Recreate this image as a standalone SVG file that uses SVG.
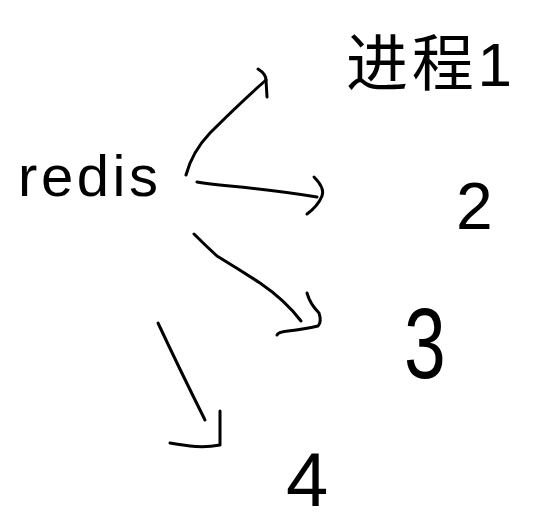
<svg xmlns="http://www.w3.org/2000/svg" width="548" height="525" viewBox="0 0 548 525">
<style>
.ln{fill:none;stroke:#000;stroke-width:3;stroke-linecap:round;stroke-linejoin:round}
.t{font-family:"Liberation Sans","Noto Sans CJK SC",sans-serif;fill:#000;font-weight:normal}
</style>
<rect width="548" height="525" fill="#fff"/>
<g id="redis"><text class="t" x="18" y="196" font-size="58" textLength="140" lengthAdjust="spacing">redis</text></g>
<g id="p1"><text class="t" x="346" y="86" font-size="62" textLength="166" lengthAdjust="spacing">进程1</text></g>
<g id="p2"><text class="t" x="456" y="229" font-size="66">2</text></g>
<g id="p3"><text class="t" x="404" y="378" font-size="100" transform="translate(404 378) scale(0.75 1) translate(-404 -378)">3</text></g>
<g id="p4"><text class="t" x="286" y="506" font-size="76">4</text></g>
<g id="connectors">
<path class="ln" d="M186,175 Q192,152 210,133 Q240,103 266,80"/>
<path class="ln" d="M258,69 Q266,74 266,80 L267,97"/>
<path class="ln" d="M197,182 Q208,184 230,186 Q280,191 317,197"/>
<path class="ln" d="M314,177 Q325,188 322,196 Q318,206 307,214"/>
<path class="ln" d="M194,234 Q205,245 217,256 Q240,270 260,283 Q285,300 301,321"/>
<path class="ln" d="M307,293 Q310,304 319,313 Q322,322 318,326 Q305,329 288,331 Q278,332 277,335"/>
<path class="ln" d="M158,323 Q180,370 205,420"/>
<path class="ln" d="M220,411 L220,445 Q205,448 190,446 Q175,444 170,443"/>
</g>
</svg>
